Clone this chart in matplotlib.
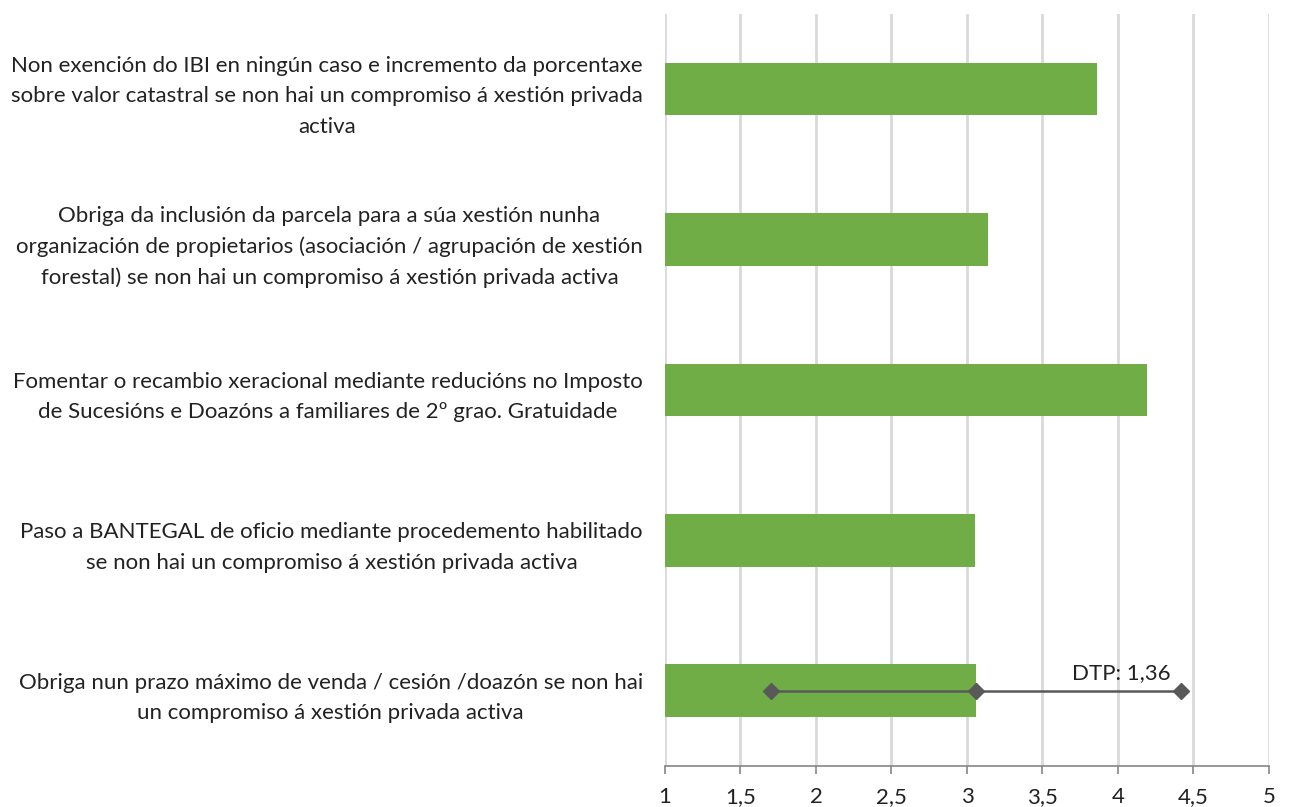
import numpy as np
import matplotlib.pyplot as plt

plt.rcParams['font.family'] = ['Lato', 'DejaVu Sans']

categorias = [
    "Non exención do IBI en ningún caso e incremento da porcentaxe\nsobre valor catastral se non hai un compromiso á xestión privada\nactiva",
    "Obriga da inclusión da parcela para a súa xestión nunha\norganización de propietarios (asociación / agrupación de xestión\nforestal) se non hai un compromiso á xestión privada activa",
    "Fomentar o recambio xeracional mediante reducións no Imposto\nde Sucesións e Doazóns a familiares de 2º grao. Gratuidade",
    "Paso a BANTEGAL de oficio mediante procedemento habilitado\nse non hai un compromiso á xestión privada activa",
    "Obriga nun prazo máximo de venda / cesión /doazón se non hai\nun compromiso á xestión privada activa",
]
medias = [3.86, 3.14, 4.19, 3.05, 3.06]
dtp_media = 3.06
dtp = 1.36
ticks = [1, 1.5, 2, 2.5, 3, 3.5, 4, 4.5, 5]
tick_labels = ["1", "1,5", "2", "2,5", "3", "3,5", "4", "4,5", "5"]

fig = plt.figure(figsize=(12.93, 8.07), dpi=100)
ax = fig.add_axes([0.5143, 0.0508, 0.4671, 0.9319])

y = np.arange(len(categorias))
ax.barh(y, np.array(medias) - 1, left=1, height=0.35, color='#70ad47', zorder=2)

# desviación típica na última barra
ax.plot([dtp_media - dtp, dtp_media, dtp_media + dtp], [y[-1]] * 3,
        color='#595959', lw=1.8, marker='D', markersize=8, zorder=3)
ax.text(dtp_media + dtp - 0.07, y[-1] - 0.05, "DTP: 1,36", ha='right', va='bottom',
        fontsize=16, color='#222222')

ax.set_xlim(1, 5)
ax.set_ylim(len(categorias) - 0.5, -0.5)
ax.set_xticks(ticks)
ax.set_xticklabels(tick_labels, fontsize=16, color='#222222')
ax.set_yticks(y)
ax.set_yticklabels(categorias, fontsize=16, color='#222222',
                   multialignment='center', linespacing=1.65)
ax.tick_params(axis='y', length=0, pad=16)
ax.tick_params(axis='x', length=6, width=1.2, color='#868686', pad=9)
ax.grid(axis='x', color='#d9d9d9', lw=2, zorder=0)
for s in ['top', 'right', 'left']:
    ax.spines[s].set_visible(False)
ax.spines['bottom'].set_color('#868686')
ax.spines['bottom'].set_linewidth(1.2)

fig.savefig('out.png', dpi=100)
